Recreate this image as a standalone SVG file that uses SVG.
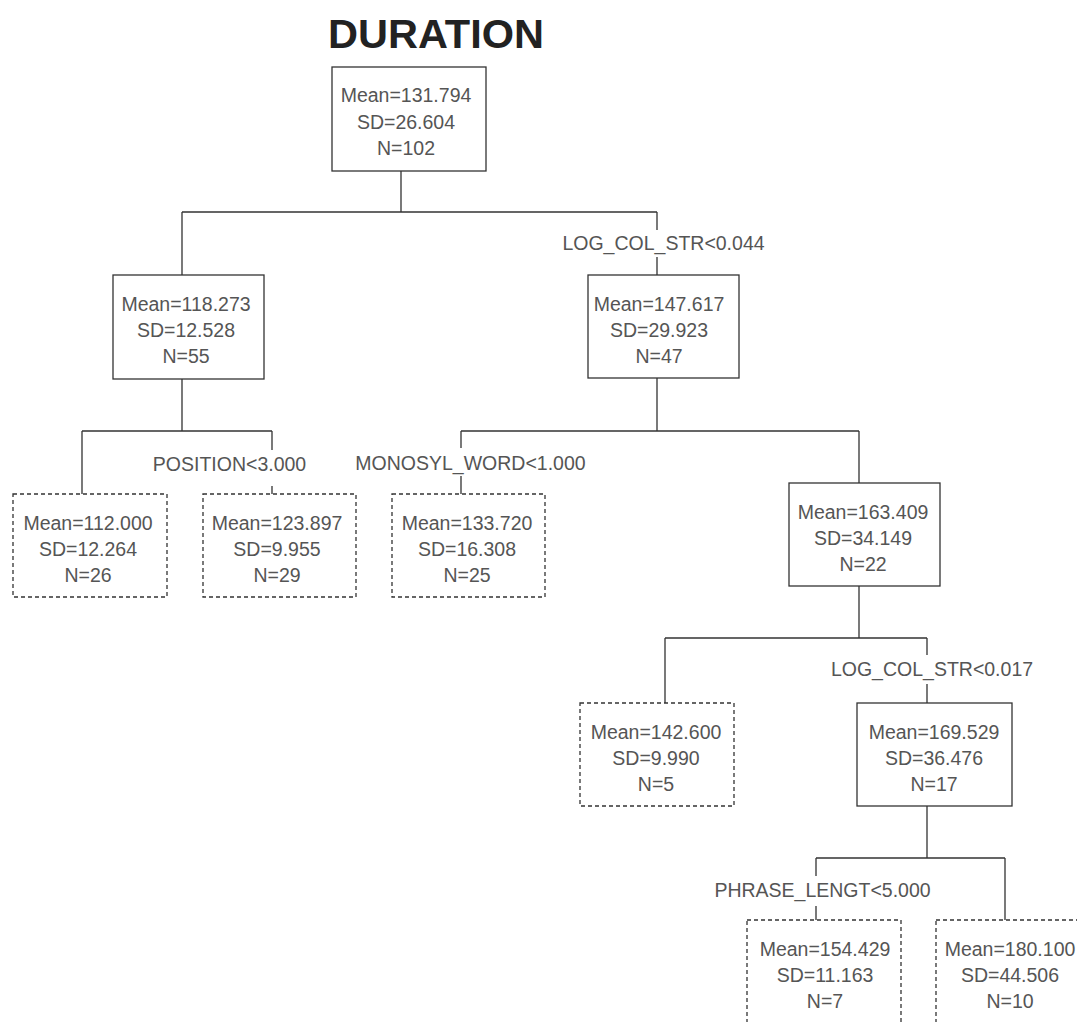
<svg xmlns="http://www.w3.org/2000/svg" width="1077" height="1022" viewBox="0 0 1077 1022">
<style>
.bg{fill:#ffffff}
.title{font-family:"Liberation Sans",Arial,sans-serif;font-weight:bold;font-size:41.5px;fill:#222;text-anchor:middle}
.t{font-family:"Liberation Sans",Arial,sans-serif;font-size:19.5px;fill:#555;text-anchor:middle}
.box{fill:#fff;stroke:#333;stroke-width:1.3}
.leaf{fill:#fff;stroke:#333;stroke-width:1.3;stroke-dasharray:4 3}
.ln{fill:none;stroke:#333;stroke-width:1.3}
</style>
<rect class="bg" x="0" y="0" width="1077" height="1022"/>
<text class="title" x="436" y="48">DURATION</text>
<g id="connectors">
<path class="ln" d="M401 171V212M182 212H657M182 212V275M657 212V230M657 257V275"/>
<path class="ln" d="M182 379V431M82 431H272M82 431V494M272 431V450M272 486V494"/>
<path class="ln" d="M657 378V431M461 431H859M461 431V448M461 476V494M859 431V483"/>
<path class="ln" d="M859 586V638M665 638H927M665 638V703M927 638V655M927 684V703"/>
<path class="ln" d="M927 806V858M816 858H1005M816 858V876M816 906V920M1005 858V920"/>
<text class="t" x="663.5" y="250">LOG_COL_STR&lt;0.044</text>
<text class="t" x="229.5" y="471">POSITION&lt;3.000</text>
<text class="t" x="470.5" y="470">MONOSYL_WORD&lt;1.000</text>
<text class="t" x="932" y="676">LOG_COL_STR&lt;0.017</text>
<text class="t" x="822.5" y="897">PHRASE_LENGT&lt;5.000</text>
</g>
<g id="n0"><rect class="box" x="332" y="67" width="154" height="104"/>
<text class="t" x="406" y="102">Mean=131.794</text><text class="t" x="406" y="129">SD=26.604</text><text class="t" x="406" y="155">N=102</text></g>
<g id="n1"><rect class="box" x="113" y="275" width="151" height="104"/>
<text class="t" x="186" y="311">Mean=118.273</text><text class="t" x="186" y="337">SD=12.528</text><text class="t" x="186" y="363">N=55</text></g>
<g id="n2"><rect class="box" x="588" y="275" width="151" height="103"/>
<text class="t" x="659" y="311">Mean=147.617</text><text class="t" x="659" y="337">SD=29.923</text><text class="t" x="659" y="363">N=47</text></g>
<g id="n3"><rect class="leaf" x="13" y="494" width="154" height="103"/>
<text class="t" x="88" y="530">Mean=112.000</text><text class="t" x="88" y="556">SD=12.264</text><text class="t" x="88" y="582">N=26</text></g>
<g id="n4"><rect class="leaf" x="203" y="494" width="153" height="103"/>
<text class="t" x="277" y="530">Mean=123.897</text><text class="t" x="277" y="556">SD=9.955</text><text class="t" x="277" y="582">N=29</text></g>
<g id="n5"><rect class="leaf" x="392" y="494" width="153" height="103"/>
<text class="t" x="467" y="530">Mean=133.720</text><text class="t" x="467" y="556">SD=16.308</text><text class="t" x="467" y="582">N=25</text></g>
<g id="n6"><rect class="box" x="789" y="483" width="151" height="103"/>
<text class="t" x="863" y="519">Mean=163.409</text><text class="t" x="863" y="545">SD=34.149</text><text class="t" x="863" y="571">N=22</text></g>
<g id="n7"><rect class="leaf" x="580" y="703" width="154" height="103"/>
<text class="t" x="656" y="739">Mean=142.600</text><text class="t" x="656" y="765">SD=9.990</text><text class="t" x="656" y="791">N=5</text></g>
<g id="n8"><rect class="box" x="857" y="703" width="155" height="103"/>
<text class="t" x="934" y="739">Mean=169.529</text><text class="t" x="934" y="765">SD=36.476</text><text class="t" x="934" y="791">N=17</text></g>
<g id="n9"><rect class="leaf" x="747" y="920" width="154" height="104"/>
<text class="t" x="825" y="956">Mean=154.429</text><text class="t" x="825" y="982">SD=11.163</text><text class="t" x="825" y="1008">N=7</text></g>
<g id="n10"><rect class="leaf" x="936" y="920" width="154" height="104"/>
<text class="t" x="1010" y="956">Mean=180.100</text><text class="t" x="1010" y="982">SD=44.506</text><text class="t" x="1010" y="1008">N=10</text></g>
</svg>
